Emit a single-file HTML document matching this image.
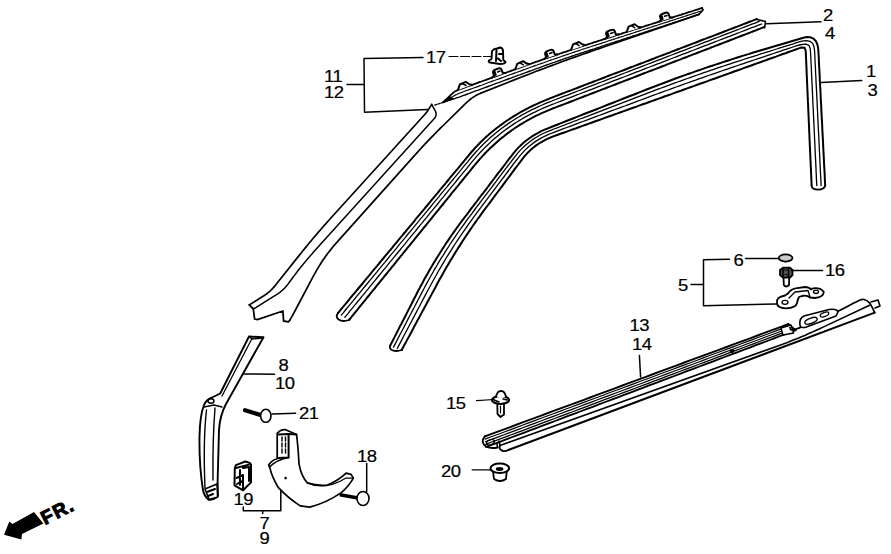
<!DOCTYPE html>
<html><head><meta charset="utf-8"><style>
html,body{margin:0;padding:0;background:#fff;}
svg{display:block;}
text{font-family:"Liberation Sans",sans-serif;font-size:16.5px;fill:#000;stroke:#000;stroke-width:0.2px;letter-spacing:-0.4px;}
</style></head><body>
<svg width="891" height="554" viewBox="0 0 891 554" stroke-linecap="round" stroke-linejoin="round">
<rect width="891" height="554" fill="#fff"/>
<path d="M338,313 L339.7,311 L341.4,308.9 L343.1,306.9 L344.8,304.8 L346.5,302.8 L348.1,300.8 L349.8,298.7 L351.5,296.7 L353.2,294.7 L354.9,292.6 L356.6,290.6 L358.3,288.5 L360,286.5 L361.7,284.5 L363.4,282.4 L365,280.4 L366.7,278.4 L368.4,276.3 L370.1,274.3 L371.8,272.2 L373.5,270.2 L375.2,268.2 L376.9,266.1 L378.6,264.1 L380.3,262 L381.9,260 L383.6,258 L385.3,255.9 L387,253.9 L388.7,251.9 L390.4,249.8 L392.1,247.8 L393.8,245.7 L395.5,243.7 L397.2,241.7 L398.8,239.6 L400.5,237.6 L402.2,235.6 L403.9,233.5 L405.6,231.5 L407.3,229.4 L409,227.4 L410.7,225.4 L412.4,223.3 L414.1,221.3 L415.7,219.2 L417.4,217.2 L419.1,215.2 L420.8,213.1 L422.5,211.1 L424.2,209.1 L425.9,207 L427.6,205 L429.3,202.9 L431,200.9 L432.6,198.9 L434.3,196.8 L436,194.8 L437.7,192.8 L439.4,190.7 L441.1,188.7 L442.8,186.6 L444.5,184.6 L446.2,182.6 L447.9,180.5 L449.5,178.5 L451.2,176.4 L452.9,174.4 L454.6,172.4 L456.3,170.3 L458,168.3 L459.7,166.3 L461.4,164.2 L463.1,162.2 L464.8,160.1 L466.4,158.1 L468.1,156.1 L469.8,154 L471.5,152 L473.3,150 L475,148 L476.9,146.1 L478.7,144.2 L480.5,142.3 L482.4,140.5 L484.4,138.6 L486.3,136.8 L488.3,135.1 L490.3,133.3 L492.3,131.6 L494.3,130 L496.4,128.3 L498.5,126.7 L500.6,125.1 L502.8,123.6 L504.9,122 L507.1,120.5 L509.3,119.1 L511.6,117.6 L513.8,116.2 L516.1,114.9 L518.3,113.5 L520.6,112.2 L523,110.9 L525.3,109.6 L527.6,108.4 L530,107.2 L532.4,106 L534.7,104.9 L537.2,103.8 L539.6,102.7 L542,101.6 L544.4,100.6 L546.9,99.6 L549.3,98.6 L551.8,97.6 L554.3,96.7 L556.7,95.7 L559.2,94.8 L561.7,93.8 L564.2,92.9 L566.6,91.9 L569.1,91 L571.6,90.1 L574,89.1 L576.5,88.2 L579,87.2 L581.5,86.3 L583.9,85.3 L586.4,84.4 L588.9,83.4 L591.4,82.5 L593.8,81.5 L596.3,80.6 L598.8,79.6 L601.2,78.7 L603.7,77.7 L606.2,76.8 L608.7,75.8 L611.1,74.9 L613.6,73.9 L616.1,73 L618.5,72.1 L621,71.1 L623.5,70.2 L626,69.2 L628.4,68.3 L630.9,67.3 L633.4,66.4 L635.9,65.4 L638.3,64.5 L640.8,63.5 L643.3,62.6 L645.7,61.6 L648.2,60.7 L650.7,59.7 L653.2,58.8 L655.6,57.8 L658.1,56.9 L660.6,55.9 L663.1,55 L665.5,54.1 L668,53.1 L670.5,52.2 L672.9,51.2 L675.4,50.3 L677.9,49.3 L680.4,48.4 L682.8,47.4 L685.3,46.5 L687.8,45.5 L690.2,44.6 L692.7,43.6 L695.2,42.7 L697.7,41.7 L700.1,40.8 L702.6,39.8 L705.1,38.9 L707.6,37.9 L710,37 L712.5,36.1 L715,35.1 L717.4,34.2 L719.9,33.2 L722.4,32.3 L724.9,31.3 L727.3,30.4 L729.8,29.4 L732.3,28.5 L734.7,27.5 L737.2,26.6 L739.7,25.6 L742.2,24.7 L744.6,23.7 L747.1,22.8 L749.6,21.8 L752.1,20.9 L754.5,19.9 L757,19 L764.5,27 L762,27.9 L759.6,28.9 L757.1,29.8 L754.7,30.8 L752.2,31.7 L749.8,32.7 L747.3,33.6 L744.8,34.6 L742.4,35.5 L739.9,36.5 L737.5,37.4 L735,38.3 L732.6,39.3 L730.1,40.2 L727.6,41.2 L725.2,42.1 L722.7,43.1 L720.3,44 L717.8,45 L715.4,45.9 L712.9,46.9 L710.4,47.8 L708,48.8 L705.5,49.7 L703.1,50.6 L700.6,51.6 L698.2,52.5 L695.7,53.5 L693.2,54.4 L690.8,55.4 L688.3,56.3 L685.9,57.3 L683.4,58.2 L681,59.2 L678.5,60.1 L676,61 L673.6,62 L671.1,62.9 L668.7,63.9 L666.2,64.8 L663.8,65.8 L661.3,66.7 L658.8,67.7 L656.4,68.6 L653.9,69.6 L651.5,70.5 L649,71.4 L646.6,72.4 L644.1,73.3 L641.6,74.3 L639.2,75.2 L636.7,76.2 L634.3,77.1 L631.8,78.1 L629.4,79 L626.9,80 L624.4,80.9 L622,81.9 L619.5,82.8 L617.1,83.7 L614.6,84.7 L612.2,85.6 L609.7,86.6 L607.2,87.5 L604.8,88.5 L602.3,89.4 L599.9,90.4 L597.4,91.3 L595,92.3 L592.5,93.2 L590.1,94.1 L587.6,95.1 L585.1,96 L582.7,97 L580.2,97.9 L577.8,98.9 L575.3,99.8 L572.9,100.8 L570.4,101.7 L567.9,102.7 L565.5,103.6 L563,104.6 L560.6,105.5 L558.1,106.4 L555.7,107.4 L553.2,108.3 L550.7,109.3 L548.3,110.3 L545.9,111.3 L543.5,112.4 L541.1,113.4 L538.7,114.6 L536.3,115.7 L534,116.9 L531.6,118.1 L529.3,119.4 L527,120.6 L524.7,122 L522.5,123.3 L520.2,124.7 L518,126.1 L515.8,127.5 L513.6,129 L511.5,130.5 L509.3,132.1 L507.2,133.6 L505.1,135.2 L503.1,136.9 L501,138.5 L499,140.2 L497,141.9 L495,143.7 L493.1,145.5 L491.2,147.3 L489.3,149.1 L487.4,150.9 L485.6,152.8 L483.8,154.7 L482,156.7 L480.2,158.6 L478.5,160.6 L476.8,162.6 L475.1,164.6 L473.4,166.7 L471.8,168.7 L470.1,170.8 L468.4,172.8 L466.8,174.8 L465.1,176.9 L463.5,178.9 L461.8,181 L460.1,183 L458.5,185.1 L456.8,187.1 L455.2,189.2 L453.5,191.2 L451.8,193.2 L450.2,195.3 L448.5,197.3 L446.9,199.4 L445.2,201.4 L443.6,203.5 L441.9,205.5 L440.2,207.6 L438.6,209.6 L436.9,211.6 L435.3,213.7 L433.6,215.7 L431.9,217.8 L430.3,219.8 L428.6,221.9 L427,223.9 L425.3,226 L423.6,228 L422,230 L420.3,232.1 L418.7,234.1 L417,236.2 L415.4,238.2 L413.7,240.3 L412,242.3 L410.4,244.4 L408.7,246.4 L407.1,248.4 L405.4,250.5 L403.7,252.5 L402.1,254.6 L400.4,256.6 L398.8,258.7 L397.1,260.7 L395.4,262.8 L393.8,264.8 L392.1,266.8 L390.5,268.9 L388.8,270.9 L387.2,273 L385.5,275 L383.8,277.1 L382.2,279.1 L380.5,281.2 L378.9,283.2 L377.2,285.2 L375.5,287.3 L373.9,289.3 L372.2,291.4 L370.6,293.4 L368.9,295.5 L367.2,297.5 L365.6,299.6 L363.9,301.6 L362.3,303.6 L360.6,305.7 L359,307.7 L357.3,309.8 L355.6,311.8 L354,313.9 L352.3,315.9 L350.7,318 L349,320Z" fill="#fff" stroke="none"/>
<path d="M338,313 L339.7,311 L341.4,308.9 L343.1,306.9 L344.8,304.8 L346.5,302.8 L348.1,300.8 L349.8,298.7 L351.5,296.7 L353.2,294.7 L354.9,292.6 L356.6,290.6 L358.3,288.5 L360,286.5 L361.7,284.5 L363.4,282.4 L365,280.4 L366.7,278.4 L368.4,276.3 L370.1,274.3 L371.8,272.2 L373.5,270.2 L375.2,268.2 L376.9,266.1 L378.6,264.1 L380.3,262 L381.9,260 L383.6,258 L385.3,255.9 L387,253.9 L388.7,251.9 L390.4,249.8 L392.1,247.8 L393.8,245.7 L395.5,243.7 L397.2,241.7 L398.8,239.6 L400.5,237.6 L402.2,235.6 L403.9,233.5 L405.6,231.5 L407.3,229.4 L409,227.4 L410.7,225.4 L412.4,223.3 L414.1,221.3 L415.7,219.2 L417.4,217.2 L419.1,215.2 L420.8,213.1 L422.5,211.1 L424.2,209.1 L425.9,207 L427.6,205 L429.3,202.9 L431,200.9 L432.6,198.9 L434.3,196.8 L436,194.8 L437.7,192.8 L439.4,190.7 L441.1,188.7 L442.8,186.6 L444.5,184.6 L446.2,182.6 L447.9,180.5 L449.5,178.5 L451.2,176.4 L452.9,174.4 L454.6,172.4 L456.3,170.3 L458,168.3 L459.7,166.3 L461.4,164.2 L463.1,162.2 L464.8,160.1 L466.4,158.1 L468.1,156.1 L469.8,154 L471.5,152 L473.3,150 L475,148 L476.9,146.1 L478.7,144.2 L480.5,142.3 L482.4,140.5 L484.4,138.6 L486.3,136.8 L488.3,135.1 L490.3,133.3 L492.3,131.6 L494.3,130 L496.4,128.3 L498.5,126.7 L500.6,125.1 L502.8,123.6 L504.9,122 L507.1,120.5 L509.3,119.1 L511.6,117.6 L513.8,116.2 L516.1,114.9 L518.3,113.5 L520.6,112.2 L523,110.9 L525.3,109.6 L527.6,108.4 L530,107.2 L532.4,106 L534.7,104.9 L537.2,103.8 L539.6,102.7 L542,101.6 L544.4,100.6 L546.9,99.6 L549.3,98.6 L551.8,97.6 L554.3,96.7 L556.7,95.7 L559.2,94.8 L561.7,93.8 L564.2,92.9 L566.6,91.9 L569.1,91 L571.6,90.1 L574,89.1 L576.5,88.2 L579,87.2 L581.5,86.3 L583.9,85.3 L586.4,84.4 L588.9,83.4 L591.4,82.5 L593.8,81.5 L596.3,80.6 L598.8,79.6 L601.2,78.7 L603.7,77.7 L606.2,76.8 L608.7,75.8 L611.1,74.9 L613.6,73.9 L616.1,73 L618.5,72.1 L621,71.1 L623.5,70.2 L626,69.2 L628.4,68.3 L630.9,67.3 L633.4,66.4 L635.9,65.4 L638.3,64.5 L640.8,63.5 L643.3,62.6 L645.7,61.6 L648.2,60.7 L650.7,59.7 L653.2,58.8 L655.6,57.8 L658.1,56.9 L660.6,55.9 L663.1,55 L665.5,54.1 L668,53.1 L670.5,52.2 L672.9,51.2 L675.4,50.3 L677.9,49.3 L680.4,48.4 L682.8,47.4 L685.3,46.5 L687.8,45.5 L690.2,44.6 L692.7,43.6 L695.2,42.7 L697.7,41.7 L700.1,40.8 L702.6,39.8 L705.1,38.9 L707.6,37.9 L710,37 L712.5,36.1 L715,35.1 L717.4,34.2 L719.9,33.2 L722.4,32.3 L724.9,31.3 L727.3,30.4 L729.8,29.4 L732.3,28.5 L734.7,27.5 L737.2,26.6 L739.7,25.6 L742.2,24.7 L744.6,23.7 L747.1,22.8 L749.6,21.8 L752.1,20.9 L754.5,19.9 L757,19" fill="none" stroke="#000" stroke-width="2.0" />
<path d="M349,320 L350.7,318 L352.3,315.9 L354,313.9 L355.6,311.8 L357.3,309.8 L359,307.7 L360.6,305.7 L362.3,303.6 L363.9,301.6 L365.6,299.6 L367.2,297.5 L368.9,295.5 L370.6,293.4 L372.2,291.4 L373.9,289.3 L375.5,287.3 L377.2,285.2 L378.9,283.2 L380.5,281.2 L382.2,279.1 L383.8,277.1 L385.5,275 L387.2,273 L388.8,270.9 L390.5,268.9 L392.1,266.8 L393.8,264.8 L395.4,262.8 L397.1,260.7 L398.8,258.7 L400.4,256.6 L402.1,254.6 L403.7,252.5 L405.4,250.5 L407.1,248.4 L408.7,246.4 L410.4,244.4 L412,242.3 L413.7,240.3 L415.4,238.2 L417,236.2 L418.7,234.1 L420.3,232.1 L422,230 L423.6,228 L425.3,226 L427,223.9 L428.6,221.9 L430.3,219.8 L431.9,217.8 L433.6,215.7 L435.3,213.7 L436.9,211.6 L438.6,209.6 L440.2,207.6 L441.9,205.5 L443.6,203.5 L445.2,201.4 L446.9,199.4 L448.5,197.3 L450.2,195.3 L451.8,193.2 L453.5,191.2 L455.2,189.2 L456.8,187.1 L458.5,185.1 L460.1,183 L461.8,181 L463.5,178.9 L465.1,176.9 L466.8,174.8 L468.4,172.8 L470.1,170.8 L471.8,168.7 L473.4,166.7 L475.1,164.6 L476.8,162.6 L478.5,160.6 L480.2,158.6 L482,156.7 L483.8,154.7 L485.6,152.8 L487.4,150.9 L489.3,149.1 L491.2,147.3 L493.1,145.5 L495,143.7 L497,141.9 L499,140.2 L501,138.5 L503.1,136.9 L505.1,135.2 L507.2,133.6 L509.3,132.1 L511.5,130.5 L513.6,129 L515.8,127.5 L518,126.1 L520.2,124.7 L522.5,123.3 L524.7,122 L527,120.6 L529.3,119.4 L531.6,118.1 L534,116.9 L536.3,115.7 L538.7,114.6 L541.1,113.4 L543.5,112.4 L545.9,111.3 L548.3,110.3 L550.7,109.3 L553.2,108.3 L555.7,107.4 L558.1,106.4 L560.6,105.5 L563,104.6 L565.5,103.6 L567.9,102.7 L570.4,101.7 L572.9,100.8 L575.3,99.8 L577.8,98.9 L580.2,97.9 L582.7,97 L585.1,96 L587.6,95.1 L590.1,94.1 L592.5,93.2 L595,92.3 L597.4,91.3 L599.9,90.4 L602.3,89.4 L604.8,88.5 L607.2,87.5 L609.7,86.6 L612.2,85.6 L614.6,84.7 L617.1,83.7 L619.5,82.8 L622,81.9 L624.4,80.9 L626.9,80 L629.4,79 L631.8,78.1 L634.3,77.1 L636.7,76.2 L639.2,75.2 L641.6,74.3 L644.1,73.3 L646.6,72.4 L649,71.4 L651.5,70.5 L653.9,69.6 L656.4,68.6 L658.8,67.7 L661.3,66.7 L663.8,65.8 L666.2,64.8 L668.7,63.9 L671.1,62.9 L673.6,62 L676,61 L678.5,60.1 L681,59.2 L683.4,58.2 L685.9,57.3 L688.3,56.3 L690.8,55.4 L693.2,54.4 L695.7,53.5 L698.2,52.5 L700.6,51.6 L703.1,50.6 L705.5,49.7 L708,48.8 L710.4,47.8 L712.9,46.9 L715.4,45.9 L717.8,45 L720.3,44 L722.7,43.1 L725.2,42.1 L727.6,41.2 L730.1,40.2 L732.6,39.3 L735,38.3 L737.5,37.4 L739.9,36.5 L742.4,35.5 L744.8,34.6 L747.3,33.6 L749.8,32.7 L752.2,31.7 L754.7,30.8 L757.1,29.8 L759.6,28.9 L762,27.9 L764.5,27" fill="none" stroke="#000" stroke-width="2.0" />
<path d="M341.3,315.1 L343,313.1 L344.7,311 L346.3,309 L348,306.9 L349.7,304.9 L351.4,302.9 L353.1,300.8 L354.7,298.8 L356.4,296.7 L358.1,294.7 L359.8,292.7 L361.5,290.6 L363.1,288.6 L364.8,286.5 L366.5,284.5 L368.2,282.5 L369.9,280.4 L371.6,278.4 L373.2,276.3 L374.9,274.3 L376.6,272.3 L378.3,270.2 L380,268.2 L381.6,266.1 L383.3,264.1 L385,262.1 L386.7,260 L388.4,258 L390,255.9 L391.7,253.9 L393.4,251.9 L395.1,249.8 L396.8,247.8 L398.4,245.7 L400.1,243.7 L401.8,241.7 L403.5,239.6 L405.2,237.6 L406.8,235.5 L408.5,233.5 L410.2,231.5 L411.9,229.4 L413.6,227.4 L415.2,225.3 L416.9,223.3 L418.6,221.3 L420.3,219.2 L422,217.2 L423.7,215.1 L425.3,213.1 L427,211.1 L428.7,209 L430.4,207 L432.1,204.9 L433.7,202.9 L435.4,200.9 L437.1,198.8 L438.8,196.8 L440.5,194.7 L442.1,192.7 L443.8,190.7 L445.5,188.6 L447.2,186.6 L448.9,184.5 L450.5,182.5 L452.2,180.5 L453.9,178.4 L455.6,176.4 L457.3,174.3 L458.9,172.3 L460.6,170.3 L462.3,168.2 L464,166.2 L465.7,164.1 L467.4,162.1 L469,160.1 L470.7,158 L472.4,156 L474.1,154 L475.9,152 L477.7,150.1 L479.5,148.1 L481.3,146.2 L483.2,144.3 L485.1,142.5 L487,140.7 L488.9,138.9 L490.9,137.1 L492.9,135.4 L494.9,133.7 L497,132 L499,130.4 L501.1,128.8 L503.2,127.2 L505.4,125.6 L507.5,124.1 L509.7,122.6 L511.9,121.2 L514.2,119.7 L516.4,118.3 L518.7,117 L520.9,115.6 L523.2,114.3 L525.6,113.1 L527.9,111.8 L530.2,110.6 L532.6,109.4 L535,108.3 L537.4,107.1 L539.8,106 L542.2,105 L544.6,103.9 L547.1,102.9 L549.5,101.9 L552,101 L554.4,100 L556.9,99 L559.4,98.1 L561.8,97.1 L564.3,96.2 L566.8,95.3 L569.2,94.3 L571.7,93.4 L574.2,92.4 L576.6,91.5 L579.1,90.5 L581.6,89.6 L584,88.6 L586.5,87.7 L589,86.7 L591.4,85.8 L593.9,84.8 L596.4,83.9 L598.8,82.9 L601.3,82 L603.8,81.1 L606.2,80.1 L608.7,79.2 L611.2,78.2 L613.7,77.3 L616.1,76.3 L618.6,75.4 L621.1,74.4 L623.5,73.5 L626,72.5 L628.5,71.6 L630.9,70.6 L633.4,69.7 L635.9,68.7 L638.3,67.8 L640.8,66.8 L643.3,65.9 L645.7,65 L648.2,64 L650.7,63.1 L653.1,62.1 L655.6,61.2 L658.1,60.2 L660.5,59.3 L663,58.3 L665.5,57.4 L667.9,56.4 L670.4,55.5 L672.9,54.5 L675.3,53.6 L677.8,52.6 L680.3,51.7 L682.7,50.8 L685.2,49.8 L687.7,48.9 L690.2,47.9 L692.6,47 L695.1,46 L697.6,45.1 L700,44.1 L702.5,43.2 L705,42.2 L707.4,41.3 L709.9,40.3 L712.4,39.4 L714.8,38.4 L717.3,37.5 L719.8,36.5 L722.2,35.6 L724.7,34.7 L727.2,33.7 L729.6,32.8 L732.1,31.8 L734.6,30.9 L737,29.9 L739.5,29 L742,28 L744.4,27.1 L746.9,26.1 L749.4,25.2 L751.8,24.2 L754.3,23.3 L756.8,22.3 L759.2,21.4" fill="none" stroke="#000" stroke-width="1.3" />
<path d="M344.8,317.3 L346.5,315.3 L348.2,313.3 L349.8,311.2 L351.5,309.2 L353.2,307.1 L354.8,305.1 L356.5,303 L358.2,301 L359.9,299 L361.5,296.9 L363.2,294.9 L364.9,292.8 L366.5,290.8 L368.2,288.8 L369.9,286.7 L371.6,284.7 L373.2,282.6 L374.9,280.6 L376.6,278.5 L378.2,276.5 L379.9,274.5 L381.6,272.4 L383.2,270.4 L384.9,268.3 L386.6,266.3 L388.3,264.2 L389.9,262.2 L391.6,260.2 L393.3,258.1 L394.9,256.1 L396.6,254 L398.3,252 L400,250 L401.6,247.9 L403.3,245.9 L405,243.8 L406.6,241.8 L408.3,239.7 L410,237.7 L411.6,235.7 L413.3,233.6 L415,231.6 L416.7,229.5 L418.3,227.5 L420,225.4 L421.7,223.4 L423.3,221.4 L425,219.3 L426.7,217.3 L428.4,215.2 L430,213.2 L431.7,211.2 L433.4,209.1 L435,207.1 L436.7,205 L438.4,203 L440,200.9 L441.7,198.9 L443.4,196.9 L445.1,194.8 L446.7,192.8 L448.4,190.7 L450.1,188.7 L451.7,186.7 L453.4,184.6 L455.1,182.6 L456.8,180.5 L458.4,178.5 L460.1,176.4 L461.8,174.4 L463.4,172.4 L465.1,170.3 L466.8,168.3 L468.5,166.2 L470.1,164.2 L471.8,162.1 L473.5,160.1 L475.2,158.1 L476.9,156.1 L478.7,154.1 L480.4,152.2 L482.3,150.3 L484.1,148.4 L486,146.5 L487.9,144.7 L489.8,142.9 L491.7,141.1 L493.7,139.3 L495.7,137.6 L497.7,135.9 L499.8,134.2 L501.8,132.6 L503.9,131 L506,129.4 L508.2,127.9 L510.3,126.4 L512.5,124.9 L514.7,123.4 L516.9,122 L519.2,120.6 L521.4,119.3 L523.7,117.9 L526,116.6 L528.3,115.4 L530.7,114.1 L533,112.9 L535.4,111.8 L537.8,110.6 L540.2,109.5 L542.6,108.4 L545,107.4 L547.4,106.4 L549.9,105.4 L552.3,104.4 L554.8,103.5 L557.2,102.5 L559.7,101.6 L562.2,100.6 L564.6,99.7 L567.1,98.7 L569.5,97.8 L572,96.8 L574.5,95.9 L576.9,94.9 L579.4,94 L581.9,93 L584.3,92.1 L586.8,91.2 L589.3,90.2 L591.7,89.3 L594.2,88.3 L596.6,87.4 L599.1,86.4 L601.6,85.5 L604,84.5 L606.5,83.6 L609,82.6 L611.4,81.7 L613.9,80.7 L616.3,79.8 L618.8,78.8 L621.3,77.9 L623.7,77 L626.2,76 L628.7,75.1 L631.1,74.1 L633.6,73.2 L636,72.2 L638.5,71.3 L641,70.3 L643.4,69.4 L645.9,68.4 L648.4,67.5 L650.8,66.5 L653.3,65.6 L655.7,64.7 L658.2,63.7 L660.7,62.8 L663.1,61.8 L665.6,60.9 L668.1,59.9 L670.5,59 L673,58 L675.5,57.1 L677.9,56.1 L680.4,55.2 L682.8,54.2 L685.3,53.3 L687.8,52.4 L690.2,51.4 L692.7,50.5 L695.2,49.5 L697.6,48.6 L700.1,47.6 L702.5,46.7 L705,45.7 L707.5,44.8 L709.9,43.8 L712.4,42.9 L714.9,41.9 L717.3,41 L719.8,40 L722.2,39.1 L724.7,38.2 L727.2,37.2 L729.6,36.3 L732.1,35.3 L734.6,34.4 L737,33.4 L739.5,32.5 L741.9,31.5 L744.4,30.6 L746.9,29.6 L749.3,28.7 L751.8,27.7 L754.3,26.8 L756.7,25.9 L759.2,24.9 L761.7,24" fill="none" stroke="#000" stroke-width="1.3" />
<path d="M338,313 C334,318 340,323 349,320" fill="none" stroke="#000" stroke-width="1.8" />
<path d="M757,19.5 L765.5,21.5 L764.5,27.8" fill="none" stroke="#000" stroke-width="1.6" />
<path d="M390,346 L391.6,342.9 L393.2,339.7 L394.8,336.6 L396.4,333.4 L398,330.3 L399.6,327.1 L401.3,324 L402.9,320.8 L404.5,317.7 L406.1,314.6 L407.7,311.4 L409.3,308.3 L410.9,305.1 L412.5,302 L414.1,298.8 L415.7,295.7 L417.3,292.5 L418.9,289.4 L420.6,286.3 L422.3,283.2 L423.9,280.1 L425.6,277 L427.4,273.9 L429.1,270.8 L430.9,267.8 L432.7,264.7 L434.5,261.7 L436.3,258.7 L438.2,255.7 L440.1,252.7 L442,249.7 L443.9,246.7 L445.8,243.8 L447.8,240.9 L449.8,237.9 L451.8,235 L453.8,232.1 L455.8,229.3 L457.9,226.4 L460,223.5 L462.1,220.7 L464.2,217.9 L466.4,215.1 L468.5,212.3 L470.6,209.4 L472.8,206.6 L474.9,203.8 L477.1,201 L479.2,198.2 L481.3,195.4 L483.5,192.6 L485.6,189.8 L487.8,187 L489.9,184.2 L492,181.3 L494.2,178.5 L496.3,175.7 L498.4,172.9 L500.6,170.1 L502.7,167.3 L504.9,164.5 L507,161.7 L509.1,158.9 L511.3,156.1 L513.4,153.3 L515.7,150.6 L518.1,147.9 L520.6,145.5 L523.2,143.1 L525.9,140.8 L528.7,138.7 L531.6,136.7 L534.6,134.8 L537.7,133.1 L540.8,131.4 L544,129.9 L547.3,128.6 L550.6,127.3 L553.8,126 L557.1,124.7 L560.4,123.4 L563.7,122.1 L567,120.8 L570.3,119.5 L573.6,118.2 L576.9,116.9 L580.1,115.6 L583.4,114.3 L586.7,113 L590,111.8 L593.3,110.5 L596.6,109.2 L599.9,107.9 L603.1,106.6 L606.4,105.3 L609.7,104 L613,102.7 L616.3,101.4 L619.6,100.1 L622.9,98.8 L626.2,97.5 L629.4,96.2 L632.7,95 L636,93.7 L639.3,92.4 L642.6,91.1 L645.9,89.8 L649.2,88.5 L652.5,87.2 L655.8,86 L659,84.7 L662.4,83.5 L665.7,82.2 L669,81 L672.3,79.7 L675.6,78.5 L678.9,77.3 L682.2,76.1 L685.6,74.9 L688.9,73.7 L692.2,72.6 L695.5,71.4 L698.9,70.2 L702.2,69.1 L705.6,67.9 L708.9,66.8 L712.3,65.7 L715.6,64.6 L719,63.5 L722.3,62.4 L725.7,61.3 L729,60.2 L732.4,59.1 L735.8,58 L739.1,57 L742.5,55.9 L745.9,54.9 L749.3,53.9 L752.6,52.8 L756,51.8 L759.4,50.8 L762.8,49.8 L766.2,48.8 L769.6,47.8 L772.9,46.8 L776.3,45.8 L779.7,44.8 L783.1,43.7 L786.5,42.7 L789.9,41.7 L793.2,40.7 L796.6,39.7 L800,38.7 L803.4,37.7 L806.9,37.1 L810.4,37.3 L813.6,38.7 L816,41.3 L817.4,44.5 L818.1,48 L818.4,51.5 L818.6,55 L818.8,58.5 L818.9,62.1 L819.1,65.6 L819.3,69.1 L819.5,72.6 L819.7,76.2 L819.8,79.7 L820,83.2 L820.2,86.7 L820.4,90.3 L820.6,93.8 L820.7,97.3 L820.9,100.9 L821.1,104.4 L821.3,107.9 L821.4,111.4 L821.6,115 L821.8,118.5 L822,122 L822.2,125.5 L822.3,129.1 L822.5,132.6 L822.7,136.1 L822.9,139.7 L823.1,143.2 L823.2,146.7 L823.4,150.2 L823.6,153.8 L823.8,157.3 L823.9,160.8 L824.1,164.3 L824.3,167.9 L824.5,171.4 L824.7,174.9 L824.8,178.4 L825,182 L825.2,185.5 L811.6,185.5 L811.5,182.1 L811.3,178.8 L811.2,175.4 L811,172 L810.9,168.7 L810.7,165.3 L810.6,161.9 L810.4,158.6 L810.3,155.2 L810.1,151.9 L810,148.5 L809.8,145.1 L809.7,141.8 L809.5,138.4 L809.4,135 L809.2,131.7 L809.1,128.3 L809,124.9 L808.8,121.6 L808.7,118.2 L808.5,114.8 L808.4,111.5 L808.2,108.1 L808.1,104.7 L807.9,101.4 L807.8,98 L807.6,94.7 L807.5,91.3 L807.3,87.9 L807.2,84.6 L807,81.2 L806.9,77.8 L806.7,74.5 L806.6,71.1 L806.5,67.7 L806.3,64.4 L806.2,61 L806,57.6 L805.9,54.3 L805.7,50.9 L804.6,47.8 L801.4,47.5 L798.2,48.6 L795,49.8 L791.9,50.9 L788.7,52 L785.5,53.2 L782.3,54.3 L779.2,55.4 L776,56.6 L772.8,57.7 L769.7,58.8 L766.5,60 L763.3,61.1 L760.2,62.3 L757,63.4 L753.8,64.5 L750.6,65.7 L747.5,66.8 L744.3,67.9 L741.1,69.1 L738,70.2 L734.8,71.3 L731.6,72.5 L728.5,73.6 L725.3,74.7 L722.1,75.9 L718.9,77 L715.8,78.2 L712.6,79.3 L709.4,80.4 L706.3,81.6 L703.1,82.7 L699.9,83.8 L696.7,85 L693.6,86.1 L690.4,87.2 L687.2,88.4 L684.1,89.5 L680.9,90.7 L677.7,91.8 L674.6,92.9 L671.4,94.1 L668.2,95.2 L665,96.3 L661.9,97.5 L658.7,98.6 L655.5,99.7 L652.4,100.9 L649.2,102 L646,103.2 L642.8,104.3 L639.7,105.4 L636.5,106.6 L633.3,107.7 L630.2,108.8 L627,110 L623.8,111.1 L620.7,112.2 L617.5,113.4 L614.3,114.5 L611.1,115.7 L608,116.8 L604.8,117.9 L601.6,119.1 L598.5,120.2 L595.3,121.3 L592.1,122.5 L589,123.6 L585.8,124.7 L582.6,125.9 L579.4,127 L576.3,128.2 L573.1,129.3 L569.9,130.4 L566.8,131.6 L563.6,132.7 L560.4,133.8 L557.2,135 L554.1,136.1 L550.9,137.3 L547.9,138.7 L544.8,140.2 L541.9,141.8 L539,143.5 L536.2,145.4 L533.5,147.5 L531,149.6 L528.5,151.9 L526.2,154.4 L524,156.9 L521.9,159.6 L519.9,162.3 L517.9,165 L515.8,167.7 L513.8,170.4 L511.8,173.1 L509.8,175.8 L507.8,178.5 L505.8,181.2 L503.8,183.9 L501.8,186.6 L499.7,189.3 L497.7,192 L495.7,194.7 L493.7,197.4 L491.7,200.1 L489.7,202.8 L487.7,205.5 L485.6,208.2 L483.6,210.9 L481.6,213.6 L479.7,216.3 L477.7,219 L475.7,221.8 L473.8,224.5 L471.9,227.3 L470,230.1 L468.1,232.9 L466.2,235.6 L464.3,238.5 L462.5,241.3 L460.7,244.1 L458.9,246.9 L457.1,249.8 L455.3,252.6 L453.5,255.5 L451.8,258.4 L450,261.3 L448.3,264.2 L446.6,267.1 L444.9,270 L443.3,272.9 L441.6,275.9 L440,278.8 L438.3,281.8 L436.7,284.7 L435.2,287.7 L433.6,290.7 L432,293.6 L430.4,296.6 L428.8,299.6 L427.2,302.5 L425.6,305.5 L424,308.5 L422.4,311.4 L420.8,314.4 L419.2,317.4 L417.6,320.3 L416,323.3 L414.4,326.3 L412.9,329.2 L411.3,332.2 L409.7,335.2 L408.1,338.1 L406.5,341.1 L404.9,344.1 L403.3,347 L401.7,350Z" fill="#fff" stroke="none"/>
<path d="M390,346 L391.6,342.9 L393.2,339.7 L394.8,336.6 L396.4,333.4 L398,330.3 L399.6,327.1 L401.3,324 L402.9,320.8 L404.5,317.7 L406.1,314.6 L407.7,311.4 L409.3,308.3 L410.9,305.1 L412.5,302 L414.1,298.8 L415.7,295.7 L417.3,292.5 L418.9,289.4 L420.6,286.3 L422.3,283.2 L423.9,280.1 L425.6,277 L427.4,273.9 L429.1,270.8 L430.9,267.8 L432.7,264.7 L434.5,261.7 L436.3,258.7 L438.2,255.7 L440.1,252.7 L442,249.7 L443.9,246.7 L445.8,243.8 L447.8,240.9 L449.8,237.9 L451.8,235 L453.8,232.1 L455.8,229.3 L457.9,226.4 L460,223.5 L462.1,220.7 L464.2,217.9 L466.4,215.1 L468.5,212.3 L470.6,209.4 L472.8,206.6 L474.9,203.8 L477.1,201 L479.2,198.2 L481.3,195.4 L483.5,192.6 L485.6,189.8 L487.8,187 L489.9,184.2 L492,181.3 L494.2,178.5 L496.3,175.7 L498.4,172.9 L500.6,170.1 L502.7,167.3 L504.9,164.5 L507,161.7 L509.1,158.9 L511.3,156.1 L513.4,153.3 L515.7,150.6 L518.1,147.9 L520.6,145.5 L523.2,143.1 L525.9,140.8 L528.7,138.7 L531.6,136.7 L534.6,134.8 L537.7,133.1 L540.8,131.4 L544,129.9 L547.3,128.6 L550.6,127.3 L553.8,126 L557.1,124.7 L560.4,123.4 L563.7,122.1 L567,120.8 L570.3,119.5 L573.6,118.2 L576.9,116.9 L580.1,115.6 L583.4,114.3 L586.7,113 L590,111.8 L593.3,110.5 L596.6,109.2 L599.9,107.9 L603.1,106.6 L606.4,105.3 L609.7,104 L613,102.7 L616.3,101.4 L619.6,100.1 L622.9,98.8 L626.2,97.5 L629.4,96.2 L632.7,95 L636,93.7 L639.3,92.4 L642.6,91.1 L645.9,89.8 L649.2,88.5 L652.5,87.2 L655.8,86 L659,84.7 L662.4,83.5 L665.7,82.2 L669,81 L672.3,79.7 L675.6,78.5 L678.9,77.3 L682.2,76.1 L685.6,74.9 L688.9,73.7 L692.2,72.6 L695.5,71.4 L698.9,70.2 L702.2,69.1 L705.6,67.9 L708.9,66.8 L712.3,65.7 L715.6,64.6 L719,63.5 L722.3,62.4 L725.7,61.3 L729,60.2 L732.4,59.1 L735.8,58 L739.1,57 L742.5,55.9 L745.9,54.9 L749.3,53.9 L752.6,52.8 L756,51.8 L759.4,50.8 L762.8,49.8 L766.2,48.8 L769.6,47.8 L772.9,46.8 L776.3,45.8 L779.7,44.8 L783.1,43.7 L786.5,42.7 L789.9,41.7 L793.2,40.7 L796.6,39.7 L800,38.7 L803.4,37.7 L806.9,37.1 L810.4,37.3 L813.6,38.7 L816,41.3 L817.4,44.5 L818.1,48 L818.4,51.5 L818.6,55 L818.8,58.5 L818.9,62.1 L819.1,65.6 L819.3,69.1 L819.5,72.6 L819.7,76.2 L819.8,79.7 L820,83.2 L820.2,86.7 L820.4,90.3 L820.6,93.8 L820.7,97.3 L820.9,100.9 L821.1,104.4 L821.3,107.9 L821.4,111.4 L821.6,115 L821.8,118.5 L822,122 L822.2,125.5 L822.3,129.1 L822.5,132.6 L822.7,136.1 L822.9,139.7 L823.1,143.2 L823.2,146.7 L823.4,150.2 L823.6,153.8 L823.8,157.3 L823.9,160.8 L824.1,164.3 L824.3,167.9 L824.5,171.4 L824.7,174.9 L824.8,178.4 L825,182 L825.2,185.5" fill="none" stroke="#000" stroke-width="2.0" />
<path d="M401.7,350 L403.3,347 L404.9,344.1 L406.5,341.1 L408.1,338.1 L409.7,335.2 L411.3,332.2 L412.9,329.2 L414.4,326.3 L416,323.3 L417.6,320.3 L419.2,317.4 L420.8,314.4 L422.4,311.4 L424,308.5 L425.6,305.5 L427.2,302.5 L428.8,299.6 L430.4,296.6 L432,293.6 L433.6,290.7 L435.2,287.7 L436.7,284.7 L438.3,281.8 L440,278.8 L441.6,275.9 L443.3,272.9 L444.9,270 L446.6,267.1 L448.3,264.2 L450,261.3 L451.8,258.4 L453.5,255.5 L455.3,252.6 L457.1,249.8 L458.9,246.9 L460.7,244.1 L462.5,241.3 L464.3,238.5 L466.2,235.6 L468.1,232.9 L470,230.1 L471.9,227.3 L473.8,224.5 L475.7,221.8 L477.7,219 L479.7,216.3 L481.6,213.6 L483.6,210.9 L485.6,208.2 L487.7,205.5 L489.7,202.8 L491.7,200.1 L493.7,197.4 L495.7,194.7 L497.7,192 L499.7,189.3 L501.8,186.6 L503.8,183.9 L505.8,181.2 L507.8,178.5 L509.8,175.8 L511.8,173.1 L513.8,170.4 L515.8,167.7 L517.9,165 L519.9,162.3 L521.9,159.6 L524,156.9 L526.2,154.4 L528.5,151.9 L531,149.6 L533.5,147.5 L536.2,145.4 L539,143.5 L541.9,141.8 L544.8,140.2 L547.9,138.7 L550.9,137.3 L554.1,136.1 L557.2,135 L560.4,133.8 L563.6,132.7 L566.8,131.6 L569.9,130.4 L573.1,129.3 L576.3,128.2 L579.4,127 L582.6,125.9 L585.8,124.7 L589,123.6 L592.1,122.5 L595.3,121.3 L598.5,120.2 L601.6,119.1 L604.8,117.9 L608,116.8 L611.1,115.7 L614.3,114.5 L617.5,113.4 L620.7,112.2 L623.8,111.1 L627,110 L630.2,108.8 L633.3,107.7 L636.5,106.6 L639.7,105.4 L642.8,104.3 L646,103.2 L649.2,102 L652.4,100.9 L655.5,99.7 L658.7,98.6 L661.9,97.5 L665,96.3 L668.2,95.2 L671.4,94.1 L674.6,92.9 L677.7,91.8 L680.9,90.7 L684.1,89.5 L687.2,88.4 L690.4,87.2 L693.6,86.1 L696.7,85 L699.9,83.8 L703.1,82.7 L706.3,81.6 L709.4,80.4 L712.6,79.3 L715.8,78.2 L718.9,77 L722.1,75.9 L725.3,74.7 L728.5,73.6 L731.6,72.5 L734.8,71.3 L738,70.2 L741.1,69.1 L744.3,67.9 L747.5,66.8 L750.6,65.7 L753.8,64.5 L757,63.4 L760.2,62.3 L763.3,61.1 L766.5,60 L769.7,58.8 L772.8,57.7 L776,56.6 L779.2,55.4 L782.3,54.3 L785.5,53.2 L788.7,52 L791.9,50.9 L795,49.8 L798.2,48.6 L801.4,47.5 L804.6,47.8 L805.7,50.9 L805.9,54.3 L806,57.6 L806.2,61 L806.3,64.4 L806.5,67.7 L806.6,71.1 L806.7,74.5 L806.9,77.8 L807,81.2 L807.2,84.6 L807.3,87.9 L807.5,91.3 L807.6,94.7 L807.8,98 L807.9,101.4 L808.1,104.7 L808.2,108.1 L808.4,111.5 L808.5,114.8 L808.7,118.2 L808.8,121.6 L809,124.9 L809.1,128.3 L809.2,131.7 L809.4,135 L809.5,138.4 L809.7,141.8 L809.8,145.1 L810,148.5 L810.1,151.9 L810.3,155.2 L810.4,158.6 L810.6,161.9 L810.7,165.3 L810.9,168.7 L811,172 L811.2,175.4 L811.3,178.8 L811.5,182.1 L811.6,185.5" fill="none" stroke="#000" stroke-width="2.0" />
<path d="M393.5,347.2 L395.1,344.1 L396.7,341 L398.3,337.9 L399.9,334.8 L401.5,331.7 L403.1,328.7 L404.7,325.6 L406.3,322.5 L407.9,319.4 L409.5,316.3 L411.1,313.2 L412.7,310.1 L414.4,307 L416,303.9 L417.6,300.8 L419.2,297.7 L420.8,294.6 L422.4,291.6 L424,288.5 L425.6,285.4 L427.3,282.4 L429,279.3 L430.7,276.3 L432.4,273.2 L434.1,270.2 L435.9,267.2 L437.6,264.2 L439.4,261.2 L441.2,258.2 L443.1,255.3 L444.9,252.3 L446.8,249.4 L448.7,246.5 L450.6,243.5 L452.5,240.6 L454.4,237.8 L456.4,234.9 L458.4,232 L460.4,229.2 L462.4,226.3 L464.5,223.5 L466.5,220.7 L468.6,217.9 L470.7,215.1 L472.8,212.3 L474.8,209.5 L476.9,206.7 L479,204 L481.1,201.2 L483.2,198.4 L485.3,195.6 L487.4,192.9 L489.5,190.1 L491.6,187.3 L493.7,184.5 L495.8,181.8 L497.9,179 L500,176.2 L502.1,173.4 L504.2,170.6 L506.3,167.9 L508.4,165.1 L510.6,162.3 L512.7,159.5 L514.8,156.8 L516.9,154.1 L519.2,151.4 L521.6,148.9 L524.1,146.5 L526.7,144.2 L529.4,142 L532.2,139.9 L535.1,138 L538.1,136.2 L541.1,134.5 L544.3,133 L547.5,131.6 L550.7,130.3 L553.9,129 L557.2,127.8 L560.4,126.5 L563.7,125.3 L566.9,124 L570.2,122.8 L573.4,121.5 L576.7,120.3 L579.9,119 L583.2,117.8 L586.4,116.6 L589.7,115.3 L592.9,114.1 L596.2,112.8 L599.4,111.6 L602.7,110.3 L605.9,109.1 L609.2,107.8 L612.4,106.6 L615.7,105.3 L619,104.1 L622.2,102.9 L625.5,101.6 L628.7,100.4 L632,99.1 L635.2,97.9 L638.5,96.6 L641.7,95.4 L645,94.1 L648.2,92.9 L651.5,91.7 L654.7,90.4 L658,89.2 L661.3,88 L664.5,86.8 L667.8,85.6 L671.1,84.4 L674.3,83.2 L677.6,82 L680.9,80.8 L684.2,79.6 L687.4,78.5 L690.7,77.3 L694,76.2 L697.3,75 L700.6,73.9 L703.9,72.7 L707.2,71.6 L710.5,70.4 L713.8,69.3 L717,68.2 L720.3,67.1 L723.7,66 L727,64.9 L730.3,63.8 L733.6,62.7 L736.9,61.6 L740.2,60.6 L743.5,59.5 L746.8,58.4 L750.1,57.4 L753.5,56.3 L756.8,55.3 L760.1,54.2 L763.4,53.2 L766.7,52.1 L770.1,51.1 L773.4,50 L776.7,49 L780,47.9 L783.3,46.9 L786.7,45.8 L790,44.8 L793.3,43.8 L796.6,42.7 L799.9,41.7 L803.3,40.9 L806.7,40.7 L810,41.3 L812.6,43.2 L813.9,46.4 L814.5,49.9 L814.7,53.3 L814.9,56.8 L815,60.3 L815.2,63.8 L815.4,67.2 L815.5,70.7 L815.7,74.2 L815.9,77.7 L816,81.2 L816.2,84.6 L816.4,88.1 L816.6,91.6 L816.7,95.1 L816.9,98.5 L817.1,102 L817.2,105.5 L817.4,109 L817.6,112.5 L817.7,115.9 L817.9,119.4 L818.1,122.9 L818.2,126.4 L818.4,129.8 L818.6,133.3 L818.8,136.8 L818.9,140.3 L819.1,143.8 L819.3,147.2 L819.4,150.7 L819.6,154.2 L819.8,157.7 L819.9,161.2 L820.1,164.6 L820.3,168.1 L820.4,171.6 L820.6,175.1 L820.8,178.5 L821,182 L821.1,185.5" fill="none" stroke="#000" stroke-width="1.3" />
<path d="M397.3,348.5 L398.9,345.4 L400.5,342.4 L402,339.4 L403.6,336.3 L405.2,333.3 L406.8,330.3 L408.4,327.2 L410,324.2 L411.6,321.2 L413.2,318.1 L414.8,315.1 L416.4,312.1 L418,309 L419.6,306 L421.2,303 L422.8,299.9 L424.4,296.9 L426,293.9 L427.6,290.8 L429.3,287.8 L430.9,284.8 L432.5,281.8 L434.2,278.8 L435.9,275.8 L437.5,272.8 L439.2,269.8 L441,266.8 L442.7,263.9 L444.5,260.9 L446.2,258 L448,255.1 L449.9,252.2 L451.7,249.3 L453.5,246.4 L455.4,243.5 L457.3,240.7 L459.2,237.8 L461.1,235 L463.1,232.1 L465,229.3 L467,226.5 L469,223.7 L471,220.9 L473,218.2 L475,215.4 L477,212.6 L479.1,209.9 L481.1,207.1 L483.2,204.4 L485.3,201.6 L487.3,198.9 L489.4,196.1 L491.4,193.4 L493.5,190.7 L495.6,187.9 L497.6,185.2 L499.7,182.4 L501.7,179.7 L503.8,177 L505.9,174.2 L507.9,171.5 L510,168.7 L512,166 L514.1,163.2 L516.2,160.5 L518.3,157.8 L520.4,155.1 L522.7,152.6 L525,150.1 L527.5,147.7 L530.1,145.5 L532.8,143.4 L535.6,141.4 L538.5,139.6 L541.5,137.9 L544.5,136.3 L547.6,134.8 L550.8,133.5 L554,132.3 L557.2,131.1 L560.4,129.9 L563.6,128.7 L566.8,127.5 L570.1,126.3 L573.3,125.1 L576.5,123.9 L579.7,122.7 L582.9,121.5 L586.1,120.3 L589.3,119.1 L592.6,117.9 L595.8,116.7 L599,115.5 L602.2,114.3 L605.4,113.1 L608.6,111.9 L611.9,110.7 L615.1,109.5 L618.3,108.3 L621.5,107.1 L624.7,106 L627.9,104.8 L631.1,103.6 L634.4,102.4 L637.6,101.2 L640.8,100 L644,98.8 L647.2,97.6 L650.4,96.4 L653.6,95.2 L656.9,94 L660.1,92.8 L663.3,91.7 L666.5,90.5 L669.8,89.3 L673,88.2 L676.2,87 L679.4,85.8 L682.7,84.7 L685.9,83.5 L689.1,82.4 L692.4,81.2 L695.6,80.1 L698.8,78.9 L702.1,77.8 L705.3,76.7 L708.5,75.5 L711.8,74.4 L715,73.3 L718.3,72.2 L721.5,71 L724.7,69.9 L728,68.8 L731.2,67.7 L734.5,66.6 L737.7,65.5 L741,64.4 L744.2,63.3 L747.5,62.2 L750.7,61.1 L754,60 L757.2,58.9 L760.5,57.8 L763.7,56.8 L767,55.7 L770.2,54.6 L773.5,53.5 L776.7,52.4 L780,51.3 L783.2,50.2 L786.5,49.1 L789.7,48.1 L793,47 L796.2,45.9 L799.5,45 L802.8,44.3 L806,44.2 L808.9,45.3 L810.2,48.5 L810.5,51.9 L810.7,55.3 L810.9,58.7 L811,62.2 L811.2,65.6 L811.4,69 L811.5,72.4 L811.7,75.9 L811.8,79.3 L812,82.7 L812.2,86.1 L812.3,89.6 L812.5,93 L812.6,96.4 L812.8,99.8 L812.9,103.3 L813.1,106.7 L813.3,110.1 L813.4,113.5 L813.6,117 L813.7,120.4 L813.9,123.8 L814.1,127.3 L814.2,130.7 L814.4,134.1 L814.5,137.5 L814.7,141 L814.9,144.4 L815,147.8 L815.2,151.2 L815.3,154.7 L815.5,158.1 L815.7,161.5 L815.8,164.9 L816,168.4 L816.1,171.8 L816.3,175.2 L816.4,178.6 L816.6,182.1 L816.8,185.5" fill="none" stroke="#000" stroke-width="1.3" />
<path d="M390,346 C389,351 396,352 401.7,350" fill="none" stroke="#000" stroke-width="1.8" />
<path d="M811.6,185.5 C812,191 824,191 825.2,185.5" fill="none" stroke="#000" stroke-width="1.8" />
<path d="M431.7,104.4 L428.6,109.4 L428.4,109.7 L428.3,109.9 L428.2,110.1 L428,110.3 L427.9,110.5 L427.7,110.8 L427.6,111 L427.4,111.2 L427.3,111.4 L427.1,111.6 L427,111.8 L426.8,112 L426.7,112.2 L426.5,112.4 L426.3,112.6 L426.2,112.8 L426,113 L425.8,113.2 L425.7,113.4 L425.5,113.6 L425.3,113.8 L425.2,114 L425,114.2 L332,216.8 L330.5,218.4 L329.1,220 L327.6,221.6 L326.2,223.3 L324.7,224.9 L323.3,226.5 L321.9,228.1 L320.5,229.8 L319,231.4 L317.6,233.1 L316.2,234.7 L314.8,236.4 L313.4,238 L312,239.7 L310.6,241.4 L309.2,243 L307.8,244.7 L306.5,246.4 L305.1,248.1 L303.7,249.8 L302.3,251.5 L301,253.2 L299.6,254.9 L275.2,285.5 L274.7,286.1 L274.3,286.6 L273.9,287.1 L273.4,287.7 L272.9,288.2 L272.5,288.7 L272,289.2 L271.5,289.7 L271,290.1 L270.5,290.6 L270,291.1 L269.5,291.5 L269,292 L268.5,292.4 L267.9,292.9 L267.4,293.3 L266.8,293.7 L266.3,294.1 L265.7,294.5 L265.2,294.9 L264.6,295.3 L264,295.7 L263.4,296 L249.3,304.9" fill="none" stroke="#000" stroke-width="1.7" />
<path d="M431.7,104.4 L435.1,110.6 L435.3,111 L435.5,111.4 L435.6,111.7 L435.8,112.1 L435.9,112.5 L436,112.9 L436,113.2 L436.1,113.6 L436.1,113.9 L436.1,114.3 L436.1,114.7 L436,115 L436,115.4 L435.9,115.7 L435.8,116 L435.7,116.4 L435.5,116.7 L435.3,117.1 L435.1,117.4 L434.9,117.7 L434.7,118.1 L434.4,118.4 L434.1,118.7 L316.9,248.3 L315.8,249.6 L314.6,250.8 L313.5,252.1 L312.4,253.4 L311.2,254.7 L310.1,255.9 L309.1,257.2 L308,258.4 L306.9,259.7 L305.9,260.9 L304.8,262.2 L303.8,263.4 L302.8,264.7 L301.8,265.9 L300.8,267.1 L299.9,268.3 L298.9,269.5 L297.9,270.8 L297,272 L296.1,273.2 L295.2,274.4 L294.3,275.6 L293.4,276.8 L288.1,284 L287.6,284.5 L287.2,285.1 L286.8,285.6 L286.3,286.1 L285.9,286.7 L285.4,287.2 L285,287.7 L284.5,288.2 L284,288.7 L283.5,289.2 L283,289.6 L282.5,290.1 L282,290.5 L281.5,291 L281,291.4 L280.5,291.9 L279.9,292.3 L279.4,292.7 L278.8,293.1 L278.3,293.5 L277.7,293.9 L277.1,294.3 L276.5,294.7 L259.7,305.2 L259.5,305.3 L259.4,305.4 L259.3,305.5 L259.1,305.6 L259,305.7 L258.8,305.8 L258.7,305.9 L258.5,306 L258.4,306.1 L258.2,306.1 L258.1,306.2 L257.9,306.3 L257.8,306.4 L257.6,306.5 L257.5,306.6 L257.3,306.7 L257.2,306.8 L257,306.9 L256.9,306.9 L256.7,307 L256.6,307.1 L256.4,307.2 L256.3,307.3 L253.3,309" fill="none" stroke="#000" stroke-width="1.5" />
<path d="M699,14.4 L603.1,47.2 L599,48.6 L594.9,50 L590.9,51.4 L586.8,52.9 L582.8,54.3 L578.8,55.7 L574.8,57.1 L570.9,58.5 L567,59.9 L563.1,61.3 L559.2,62.8 L555.3,64.2 L551.5,65.6 L547.7,67 L543.9,68.5 L540.1,69.9 L536.3,71.3 L532.6,72.7 L528.9,74.2 L525.2,75.6 L521.6,77 L517.9,78.5 L514.3,79.9 L480.2,93.4 L479.6,93.7 L478.9,94 L478.3,94.3 L477.7,94.6 L477,94.9 L476.4,95.3 L475.7,95.6 L475.1,96 L474.5,96.4 L473.8,96.8 L473.2,97.2 L472.6,97.6 L471.9,98.1 L471.3,98.5 L470.7,99 L470,99.5 L469.4,100 L468.8,100.6 L468.2,101.1 L467.5,101.6 L466.9,102.2 L466.3,102.8 L465.7,103.4 L442.7,126 L441.4,127.2 L440.2,128.4 L439,129.7 L437.7,130.9 L436.5,132.1 L435.3,133.4 L434.1,134.6 L432.9,135.8 L431.6,137.1 L430.4,138.3 L429.2,139.6 L428,140.9 L426.8,142.1 L425.6,143.4 L424.5,144.6 L423.3,145.9 L422.1,147.2 L420.9,148.5 L419.7,149.7 L418.6,151 L417.4,152.3 L416.2,153.6 L415.1,154.9 L336.6,242.6 L335.5,243.9 L334.3,245.2 L333.2,246.5 L332.1,247.9 L331,249.2 L329.9,250.6 L328.9,251.9 L327.8,253.3 L326.8,254.7 L325.8,256.1 L324.8,257.5 L323.8,258.9 L322.8,260.3 L321.9,261.8 L320.9,263.2 L320,264.7 L319.1,266.1 L318.2,267.6 L317.3,269.1 L316.4,270.6 L315.6,272.1 L314.8,273.6 L313.9,275.2 L294.9,311 L294.8,311.3 L294.7,311.5 L294.5,311.7 L294.4,312 L294.3,312.2 L294.2,312.4 L294,312.7 L293.9,312.9 L293.8,313.1 L293.7,313.3 L293.5,313.6 L293.4,313.8 L293.3,314 L293.2,314.3 L293,314.5 L292.9,314.7 L292.8,314.9 L292.7,315.2 L292.5,315.4 L292.4,315.6 L292.3,315.9 L292.1,316.1 L292,316.3 L289.7,320.4" fill="none" stroke="#000" stroke-width="1.7" />
<path d="M249.3,304.9 L253.3,309 L254.6,319 L257.3,319.7 L282.9,311 L283.6,321 L288.3,321.8 L289.7,320.4" fill="none" stroke="#000" stroke-width="1.8" />
<path d="M443,102.4 L449.5,96.5 L453,98.5 Z" fill="#000" stroke="#000" stroke-width="1"/>
<path d="M443,102.4 L444,101.4 L445,100.5 L446,99.5 L447,98.6 L448,97.6 L449.1,96.6 L450.1,95.7 L451.1,94.7 L452.1,93.8 L453.1,92.8 L454.2,92 L455.4,91.2 L456.6,90.6 L457.9,90 L459.2,89.5 L460.5,89 L461.8,88.6 L463.1,88.1 L464.4,87.6 L465.7,87.1 L467,86.7 L468.4,86.2 L469.7,85.7 L471,85.3 L472.3,84.8 L473.6,84.3 L474.9,83.8 L476.2,83.4 L477.5,82.9 L478.8,82.4 L480.1,81.9 L481.5,81.5 L482.8,81 L484.1,80.5 L485.4,80.1 L486.7,79.6 L488,79.1 L489.3,78.6 L490.6,78.2 L491.9,77.7 L493.2,77.2 L494.5,76.8 L495.9,76.3 L497.2,75.8 L498.5,75.3 L499.8,74.9 L501.1,74.4 L502.4,73.9 L503.7,73.5 L505,73 L506.3,72.5 L507.6,72 L509,71.6 L510.3,71.1 L511.6,70.6 L512.9,70.2 L514.2,69.7 L515.5,69.2 L516.8,68.7 L518.1,68.3 L519.4,67.8 L520.7,67.3 L522.1,66.9 L523.4,66.4 L524.7,65.9 L526,65.4 L527.3,65 L528.6,64.5 L529.9,64 L531.2,63.6 L532.5,63.1 L533.9,62.6 L535.2,62.2 L536.5,61.7 L537.8,61.3 L539.1,60.8 L540.4,60.3 L541.7,59.9 L543.1,59.4 L544.4,59 L545.7,58.5 L547,58.1 L548.3,57.6 L549.6,57.1 L550.9,56.7 L552.3,56.2 L553.6,55.8 L554.9,55.3 L556.2,54.9 L557.5,54.4 L558.9,54 L560.2,53.5 L561.5,53.1 L562.8,52.6 L564.1,52.2 L565.4,51.8 L566.8,51.3 L568.1,50.9 L569.4,50.4 L570.7,50 L572,49.5 L573.4,49.1 L574.7,48.7 L576,48.2 L577.3,47.8 L578.7,47.4 L580,46.9 L581.3,46.5 L582.6,46.1 L583.9,45.6 L585.3,45.2 L586.6,44.8 L587.9,44.3 L589.2,43.9 L590.6,43.5 L591.9,43.1 L593.2,42.6 L594.5,42.2 L595.9,41.8 L597.2,41.4 L598.5,40.9 L599.9,40.5 L601.2,40.1 L602.5,39.7 L603.8,39.2 L605.2,38.8 L606.5,38.4 L607.8,38 L609.1,37.6 L610.5,37.1 L611.8,36.7 L613.1,36.3 L614.4,35.9 L615.8,35.4 L617.1,35 L618.4,34.6 L619.8,34.2 L621.1,33.8 L622.4,33.3 L623.7,32.9 L625.1,32.5 L626.4,32.1 L627.7,31.6 L629,31.2 L630.4,30.8 L631.7,30.4 L633,30 L634.3,29.5 L635.7,29.1 L637,28.7 L638.3,28.3 L639.6,27.8 L641,27.4 L642.3,27 L643.6,26.6 L645,26.2 L646.3,25.7 L647.6,25.3 L648.9,24.9 L650.3,24.5 L651.6,24 L652.9,23.6 L654.2,23.2 L655.6,22.8 L656.9,22.4 L658.2,21.9 L659.5,21.5 L660.9,21.1 L662.2,20.7 L663.5,20.2 L664.9,19.8 L666.2,19.4 L667.5,19 L668.8,18.6 L670.2,18.1 L671.5,17.7 L672.8,17.3 L674.1,16.9 L675.5,16.4 L676.8,16 L678.1,15.6 L679.4,15.2 L680.8,14.8 L682.1,14.3 L683.4,13.9 L684.8,13.5 L686.1,13.1 L687.4,12.6 L688.7,12.2 L690.1,11.8 L691.4,11.4 L692.7,11 L694,10.5 L695.4,10.1 L696.7,9.7 L698,9.3 L699.3,8.8 L700.7,8.4 L702,8" fill="none" stroke="#000" stroke-width="1.8" />
<path d="M443,102.4 L444.2,101.7 L445.3,101 L446.5,100.3 L447.6,99.6 L448.8,98.9 L449.9,98.3 L451.1,97.6 L452.2,96.9 L453.4,96.2 L454.5,95.5 L455.7,94.9 L457,94.3 L458.2,93.7 L459.5,93.2 L460.8,92.7 L462.1,92.2 L463.3,91.8 L464.6,91.3 L465.9,90.8 L467.2,90.3 L468.5,89.9 L469.8,89.4 L471.1,88.9 L472.4,88.5 L473.7,88 L475,87.5 L476.3,87.1 L477.6,86.6 L478.9,86.1 L480.2,85.6 L481.5,85.2 L482.8,84.7 L484,84.2 L485.3,83.8 L486.6,83.3 L487.9,82.8 L489.2,82.3 L490.5,81.9 L491.8,81.4 L493.1,80.9 L494.4,80.5 L495.7,80 L497,79.5 L498.3,79.1 L499.6,78.6 L500.9,78.1 L502.2,77.6 L503.4,77.2 L504.7,76.7 L506,76.2 L507.3,75.8 L508.6,75.3 L509.9,74.8 L511.2,74.3 L512.5,73.9 L513.8,73.4 L515.1,72.9 L516.4,72.5 L517.7,72 L519,71.5 L520.3,71.1 L521.6,70.6 L522.8,70.1 L524.1,69.6 L525.4,69.2 L526.7,68.7 L528,68.2 L529.3,67.8 L530.6,67.3 L531.9,66.8 L533.2,66.4 L534.5,65.9 L535.8,65.4 L537.1,65 L538.4,64.5 L539.7,64 L541,63.6 L542.3,63.1 L543.6,62.7 L544.9,62.2 L546.2,61.7 L547.5,61.3 L548.8,60.8 L550.1,60.4 L551.4,59.9 L552.7,59.5 L554,59 L555.3,58.6 L556.6,58.1 L557.9,57.7 L559.2,57.2 L560.5,56.8 L561.8,56.3 L563.1,55.9 L564.4,55.4 L565.7,55 L567,54.6 L568.3,54.1 L569.6,53.7 L570.9,53.2 L572.2,52.8 L573.5,52.4 L574.8,51.9 L576.1,51.5 L577.4,51.1 L578.7,50.6 L580,50.2 L581.3,49.8 L582.6,49.3 L583.9,48.9 L585.3,48.5 L586.6,48 L587.9,47.6 L589.2,47.2 L590.5,46.8 L591.8,46.3 L593.1,45.9 L594.4,45.5 L595.7,45.1 L597,44.6 L598.3,44.2 L599.7,43.8 L601,43.4 L602.3,42.9 L603.6,42.5 L604.9,42.1 L606.2,41.7 L607.5,41.2 L608.8,40.8 L610.1,40.4 L611.4,40 L612.8,39.6 L614.1,39.1 L615.4,38.7 L616.7,38.3 L618,37.9 L619.3,37.4 L620.6,37 L621.9,36.6 L623.2,36.2 L624.5,35.7 L625.8,35.3 L627.2,34.9 L628.5,34.5 L629.8,34.1 L631.1,33.6 L632.4,33.2 L633.7,32.8 L635,32.4 L636.3,31.9 L637.6,31.5 L638.9,31.1 L640.3,30.7 L641.6,30.2 L642.9,29.8 L644.2,29.4 L645.5,29 L646.8,28.6 L648.1,28.1 L649.4,27.7 L650.7,27.3 L652,26.9 L653.4,26.4 L654.7,26 L656,25.6 L657.3,25.2 L658.6,24.7 L659.9,24.3 L661.2,23.9 L662.5,23.5 L663.8,23 L665.1,22.6 L666.4,22.2 L667.8,21.8 L669.1,21.4 L670.4,20.9 L671.7,20.5 L673,20.1 L674.3,19.7 L675.6,19.2 L676.9,18.8 L678.2,18.4 L679.5,18 L680.9,17.5 L682.2,17.1 L683.5,16.7 L684.8,16.3 L686.1,15.9 L687.4,15.4 L688.7,15 L690,14.6 L691.3,14.2 L692.6,13.7 L694,13.3 L695.3,12.9 L696.6,12.5 L697.9,12 L699.2,11.6 L700.5,11.2" fill="none" stroke="#000" stroke-width="1.2" />
<path d="M443,102.4 L444.3,102 L445.6,101.6 L446.9,101.1 L448.2,100.7 L449.5,100.3 L450.8,99.9 L452.1,99.4 L453.3,99 L454.6,98.6 L455.9,98.2 L457.2,97.7 L458.5,97.3 L459.8,96.8 L461.1,96.4 L462.3,95.9 L463.6,95.4 L464.9,95 L466.2,94.5 L467.5,94 L468.7,93.6 L470,93.1 L471.3,92.6 L472.6,92.1 L473.8,91.7 L475.1,91.2 L476.4,90.7 L477.7,90.3 L478.9,89.8 L480.2,89.3 L481.5,88.9 L482.8,88.4 L484.1,87.9 L485.3,87.5 L486.6,87 L487.9,86.5 L489.2,86 L490.4,85.6 L491.7,85.1 L493,84.6 L494.3,84.2 L495.5,83.7 L496.8,83.2 L498.1,82.8 L499.4,82.3 L500.7,81.8 L501.9,81.3 L503.2,80.9 L504.5,80.4 L505.8,79.9 L507,79.5 L508.3,79 L509.6,78.5 L510.9,78.1 L512.1,77.6 L513.4,77.1 L514.7,76.7 L516,76.2 L517.3,75.7 L518.5,75.2 L519.8,74.8 L521.1,74.3 L522.4,73.8 L523.6,73.4 L524.9,72.9 L526.2,72.4 L527.5,72 L528.7,71.5 L530,71 L531.3,70.6 L532.6,70.1 L533.9,69.6 L535.1,69.1 L536.4,68.7 L537.7,68.2 L539,67.8 L540.2,67.3 L541.5,66.8 L542.8,66.4 L544.1,65.9 L545.4,65.4 L546.6,65 L547.9,64.5 L549.2,64.1 L550.5,63.6 L551.8,63.2 L553.1,62.7 L554.3,62.3 L555.6,61.8 L556.9,61.4 L558.2,60.9 L559.5,60.5 L560.8,60 L562,59.6 L563.3,59.1 L564.6,58.7 L565.9,58.2 L567.2,57.8 L568.5,57.4 L569.8,56.9 L571.1,56.5 L572.3,56 L573.6,55.6 L574.9,55.2 L576.2,54.7 L577.5,54.3 L578.8,53.9 L580.1,53.4 L581.4,53 L582.7,52.6 L584,52.1 L585.2,51.7 L586.5,51.3 L587.8,50.9 L589.1,50.4 L590.4,50 L591.7,49.6 L593,49.2 L594.3,48.8 L595.6,48.3 L596.9,47.9 L598.2,47.5 L599.5,47.1 L600.8,46.6 L602,46.2 L603.3,45.8 L604.6,45.4 L605.9,44.9 L607.2,44.5 L608.5,44.1 L609.8,43.7 L611.1,43.2 L612.4,42.8 L613.7,42.4 L615,42 L616.3,41.5 L617.6,41.1 L618.9,40.7 L620.1,40.3 L621.4,39.8 L622.7,39.4 L624,39 L625.3,38.6 L626.6,38.1 L627.9,37.7 L629.2,37.3 L630.5,36.9 L631.8,36.5 L633.1,36 L634.4,35.6 L635.7,35.2 L637,34.8 L638.2,34.3 L639.5,33.9 L640.8,33.5 L642.1,33.1 L643.4,32.6 L644.7,32.2 L646,31.8 L647.3,31.4 L648.6,30.9 L649.9,30.5 L651.2,30.1 L652.5,29.7 L653.8,29.2 L655,28.8 L656.3,28.4 L657.6,28 L658.9,27.5 L660.2,27.1 L661.5,26.7 L662.8,26.3 L664.1,25.9 L665.4,25.4 L666.7,25 L668,24.6 L669.3,24.2 L670.6,23.7 L671.9,23.3 L673.1,22.9 L674.4,22.5 L675.7,22 L677,21.6 L678.3,21.2 L679.6,20.8 L680.9,20.3 L682.2,19.9 L683.5,19.5 L684.8,19.1 L686.1,18.6 L687.4,18.2 L688.7,17.8 L690,17.4 L691.2,16.9 L692.5,16.5 L693.8,16.1 L695.1,15.7 L696.4,15.2 L697.7,14.8 L699,14.4" fill="none" stroke="#000" stroke-width="1.4" />
<path d="M702,8 L703,10 L699,14.4" fill="none" stroke="#000" stroke-width="1.7" />
<path d="M435,105 L443,102.4" fill="none" stroke="#000" stroke-width="1.4" stroke-dasharray="2,1.5"/>
<path d="M458,89.9 L459.8,84.5 L465.7,81.8 L469.3,84.3 L472.1,84.8" fill="#fff" stroke="#000" stroke-width="2.0" />
<path d="M462.6,83.5 L466,85.5" fill="none" stroke="#000" stroke-width="1.5" />
<path d="M492.2,77.6 L494.2,75.8 L493,72.5 Q492.8,70.5 495.7,69.5 L498.5,68.4 Q500.8,67.6 501.7,69.9 L502.7,72.8 L505.4,72.9" fill="#fff" stroke="#000" stroke-width="2.0" />
<path d="M495.5,74.8 L494.3,71.5" fill="none" stroke="#000" stroke-width="2.4" />
<path d="M497.6,71.9 L500,71.1" fill="none" stroke="#000" stroke-width="1.6" />
<path d="M515.4,69.2 L517.2,63.8 L523.1,61.2 L526.7,63.6 L529.5,64.2" fill="#fff" stroke="#000" stroke-width="2.0" />
<path d="M520,62.8 L523.4,64.8" fill="none" stroke="#000" stroke-width="1.5" />
<path d="M544.2,59 L546.2,57.3 L545.1,53.9 Q544.9,51.9 547.7,50.9 L550.6,49.9 Q552.9,49.1 553.8,51.5 L554.7,54.3 L557.4,54.5" fill="#fff" stroke="#000" stroke-width="2.0" />
<path d="M547.5,56.3 L546.3,53" fill="none" stroke="#000" stroke-width="2.4" />
<path d="M549.7,53.4 L552,52.6" fill="none" stroke="#000" stroke-width="1.6" />
<path d="M571.1,49.9 L573,44.5 L579,42 L582.5,44.5 L585.3,45.2" fill="#fff" stroke="#000" stroke-width="2.0" />
<path d="M575.8,43.6 L579.1,45.6" fill="none" stroke="#000" stroke-width="1.5" />
<path d="M605.1,38.8 L607.2,37.1 L606.1,33.8 Q606,31.7 608.9,30.8 L611.7,29.9 Q614.1,29.2 614.9,31.5 L615.8,34.4 L618.5,34.6" fill="#fff" stroke="#000" stroke-width="2.0" />
<path d="M608.5,36.2 L607.4,32.9" fill="none" stroke="#000" stroke-width="2.4" />
<path d="M610.7,33.4 L613.1,32.6" fill="none" stroke="#000" stroke-width="1.6" />
<path d="M626.6,32 L628.6,26.6 L634.6,24.2 L638.1,26.8 L640.9,27.4" fill="#fff" stroke="#000" stroke-width="2.0" />
<path d="M631.5,25.7 L634.8,27.8" fill="none" stroke="#000" stroke-width="1.5" />
<path d="M659,21.7 L661.1,20 L660,16.6 Q659.9,14.6 662.8,13.7 L665.6,12.8 Q668,12 668.8,14.4 L669.7,17.2 L672.4,17.4" fill="#fff" stroke="#000" stroke-width="2.0" />
<path d="M662.4,19 L661.3,15.7" fill="none" stroke="#000" stroke-width="2.4" />
<path d="M664.6,16.2 L667,15.5" fill="none" stroke="#000" stroke-width="1.6" />
<path d="M492,51 Q494,48.5 497,48.5 L500,47.5 Q503,48 503,51 L503.3,60 L505.5,62 Q505,64 500,64 L490,62.5 Q488,62 489,60.5 L491.5,59 Z" fill="#fff" stroke="#000" stroke-width="1.9" />
<path d="M496.5,50 L496,61 M499,54 L502,54 M498,58.5 L501,61" fill="none" stroke="#000" stroke-width="2.0" />
<path d="M249,336.5 L263.5,337.2 L226,404 Q220,415 219,430 L217.6,482 L218,496 Q214,500 208.6,499.8 Q204,496 203,490 Q199,465 199.5,436 Q200,415 204,405 Q206,400 212,397.5 L220.2,393.5 Z" fill="#fff" stroke="#000" stroke-width="1.9" />
<path d="M252,338.5 L222,396" fill="none" stroke="#000" stroke-width="1.3" />
<path d="M249,336.5 L252,339 L263.5,338" fill="none" stroke="#000" stroke-width="1.4" />
<path d="M206.5,410 Q203,440 205,488" fill="none" stroke="#000" stroke-width="1.4" />
<path d="M215,408 Q212.5,440 213,480" fill="none" stroke="#000" stroke-width="1.4" />
<path d="M204,407 L214,405 L222,407" fill="none" stroke="#000" stroke-width="1.3" />
<path d="M205,489 L217,484 L217.6,497 L209,499.5 Z" fill="#fff" stroke="#000" stroke-width="1.6" />
<path d="M207,492 L215,489 M208,496 L213,494" fill="none" stroke="#000" stroke-width="2.0" />
<ellipse cx="211" cy="401" rx="3" ry="2.2" fill="none" stroke="#000" stroke-width="1.4"/>
<path d="M277.2,458.7 L277.2,433.3 Q281,429 285.6,429.7 L296.5,434.5 Q298,445 299,463.6 Q301,476 307.4,482.9 Q316,486 326.8,485.3 Q338,481 346.1,473.2 L351,474.4 L353.4,478.1 Q349,486 341.3,492.6 Q326,503 309.8,507.1 L300.2,505.9 Q288,498 278.4,487.7 Q272,477 270,468.4 L268.7,464.8 Q272,460 277.2,458.7 Z" fill="#fff" stroke="#000" stroke-width="1.7" />
<path d="M288.6,457.5 Q276,460 269.5,467" fill="none" stroke="#000" stroke-width="1.5" />
<path d="M278.5,434.5 L288.6,434 L288.6,457.5 L278.5,458" fill="none" stroke="#000" stroke-width="2.0" />
<path d="M288.6,434 L296.5,434.5" fill="none" stroke="#000" stroke-width="1.8" />
<path d="M282,437 L282,455 M285.5,437 L285.5,455" fill="none" stroke="#000" stroke-width="1.4" stroke-dasharray="4,2"/>
<path d="M307.4,482.9 Q325,491 346.1,478 L353.4,478.1" fill="none" stroke="#000" stroke-width="1.2" />
<circle cx="285.6" cy="478.1" r="1.3" fill="#000"/>
<path d="M235.9,465.1 L245.3,461.5 L249.6,462.9 L251,464.4 L251,482.4 L243.1,490.3 L234.5,485.3 L234.8,468 Z" fill="#fff" stroke="#000" stroke-width="2.0" />
<path d="M236,468 L250,464.4 M236.5,478 L243,475 L243,490 M240,470 L240,485 M243,468 L249,467 L249,481 M237,484 L242,481" fill="none" stroke="#000" stroke-width="2.0" />
<path d="M245,410.2 L261.3,415.3" fill="none" stroke="#000" stroke-width="4.2" />
<ellipse cx="265.8" cy="415.8" rx="5.2" ry="6.5" fill="#fff" stroke="#000" stroke-width="1.6"/>
<path d="M341.3,495 L358,498" fill="none" stroke="#000" stroke-width="3.8" />
<ellipse cx="363" cy="498.5" rx="6" ry="7" fill="#fff" stroke="#000" stroke-width="1.6"/>
<path d="M484.7,436.5 L788.5,324 L796,330 L874.7,312.6 L508.3,450 Z" fill="#fff" stroke="none"/>
<path d="M484.7,436.5 L490.9,434.2 L497.1,431.9 L503.3,429.6 L509.5,427.3 L515.7,425 L521.9,422.7 L528.1,420.4 L534.3,418.1 L540.5,415.8 L546.7,413.5 L552.9,411.2 L559.1,408.9 L565.3,406.7 L571.5,404.4 L577.7,402.1 L583.9,399.8 L590.1,397.5 L596.3,395.2 L602.5,392.9 L608.7,390.6 L614.9,388.3 L621.1,386 L627.3,383.7 L633.5,381.4 L639.7,379.1 L645.9,376.8 L652.1,374.5 L658.3,372.2 L664.5,369.9 L670.7,367.6 L676.9,365.3 L683.1,363 L689.3,360.7 L695.5,358.4 L701.7,356.1 L707.9,353.8 L714.1,351.6 L720.3,349.3 L726.5,347 L732.7,344.7 L738.9,342.4 L745.1,340.1 L751.3,337.8 L757.5,335.5 L763.7,333.2 L769.9,330.9 L776.1,328.6 L782.3,326.3 L788.5,324" fill="none" stroke="#000" stroke-width="1.9" />
<path d="M485,439.1 L491.2,436.8 L497.5,434.5 L503.7,432.2 L509.9,429.9 L516.1,427.6 L522.3,425.2 L528.6,422.9 L534.8,420.6 L541,418.3 L547.2,416 L553.4,413.7 L559.7,411.4 L565.9,409 L572.1,406.7 L578.3,404.4 L584.5,402.1 L590.8,399.8 L597,397.5 L603.2,395.2 L609.4,392.8 L615.6,390.5 L621.9,388.2 L628.1,385.9 L634.3,383.6 L640.5,381.3 L646.7,379 L652.9,376.7 L659.2,374.3 L665.4,372 L671.6,369.7 L677.8,367.4 L684,365.1 L690.3,362.8 L696.5,360.5 L702.7,358.1 L708.9,355.8 L715.1,353.5 L721.4,351.2 L727.6,348.9 L733.8,346.6 L740,344.3 L746.2,341.9 L752.5,339.6 L758.7,337.3 L764.9,335 L771.1,332.7 L777.3,330.4 L783.6,328.1 L789.8,325.8" fill="none" stroke="#000" stroke-width="1.2" />
<path d="M485.4,441.8 L491.6,439.4 L497.8,437.1 L504.1,434.8 L510.3,432.4 L516.5,430.1 L522.8,427.8 L529,425.4 L535.3,423.1 L541.5,420.8 L547.7,418.4 L554,416.1 L560.2,413.8 L566.5,411.4 L572.7,409.1 L578.9,406.8 L585.2,404.4 L591.4,402.1 L597.6,399.8 L603.9,397.4 L610.1,395.1 L616.4,392.8 L622.6,390.5 L628.8,388.1 L635.1,385.8 L641.3,383.5 L647.6,381.1 L653.8,378.8 L660,376.5 L666.3,374.1 L672.5,371.8 L678.8,369.5 L685,367.1 L691.2,364.8 L697.5,362.5 L703.7,360.1 L709.9,357.8 L716.2,355.5 L722.4,353.1 L728.7,350.8 L734.9,348.5 L741.1,346.2 L747.4,343.8 L753.6,341.5 L759.9,339.2 L766.1,336.8 L772.3,334.5 L778.6,332.2 L784.8,329.8 L791,327.5" fill="none" stroke="#000" stroke-width="1.2" />
<path d="M485.7,444.4 L491.9,442 L498.2,439.7 L504.4,437.3 L510.7,435 L517,432.6 L523.2,430.3 L529.5,427.9 L535.7,425.6 L542,423.2 L548.3,420.9 L554.5,418.5 L560.8,416.2 L567,413.8 L573.3,411.5 L579.5,409.1 L585.8,406.8 L592.1,404.4 L598.3,402.1 L604.6,399.7 L610.8,397.4 L617.1,395 L623.4,392.7 L629.6,390.3 L635.9,388 L642.1,385.6 L648.4,383.3 L654.6,380.9 L660.9,378.6 L667.2,376.2 L673.4,373.9 L679.7,371.5 L685.9,369.2 L692.2,366.8 L698.5,364.5 L704.7,362.1 L711,359.8 L717.2,357.4 L723.5,355.1 L729.7,352.7 L736,350.4 L742.3,348 L748.5,345.7 L754.8,343.3 L761,341 L767.3,338.6 L773.6,336.3 L779.8,333.9 L786.1,331.6 L792.3,329.2" fill="none" stroke="#000" stroke-width="1.3" />
<path d="M486,447 L492.3,444.6 L498.6,442.3 L504.8,439.9 L511.1,437.5 L517.4,435.2 L523.7,432.8 L529.9,430.4 L536.2,428.1 L542.5,425.7 L548.8,423.3 L555.1,421 L561.3,418.6 L567.6,416.2 L573.9,413.9 L580.2,411.5 L586.4,409.1 L592.7,406.8 L599,404.4 L605.3,402 L611.6,399.7 L617.8,397.3 L624.1,394.9 L630.4,392.6 L636.7,390.2 L642.9,387.8 L649.2,385.4 L655.5,383.1 L661.8,380.7 L668,378.3 L674.3,376 L680.6,373.6 L686.9,371.2 L693.2,368.9 L699.4,366.5 L705.7,364.1 L712,361.8 L718.3,359.4 L724.5,357 L730.8,354.7 L737.1,352.3 L743.4,349.9 L749.7,347.6 L755.9,345.2 L762.2,342.8 L768.5,340.5 L774.8,338.1 L781,335.7 L787.3,333.4 L793.6,331" fill="none" stroke="#000" stroke-width="1.8" />
<path d="M788.5,324 L796,330.3 L793.6,331" fill="none" stroke="#000" stroke-width="1.6" />
<path d="M781,328 L791,325 L793.6,333 L783,335 Z" fill="#fff" stroke="#000" stroke-width="1.4" />
<ellipse cx="732" cy="351" rx="2.5" ry="2" fill="#000"/>
<path d="M500,445.5 L776.5,346.4 L778.5,345.7 L780.6,344.9 L782.6,344.2 L784.6,343.4 L786.7,342.7 L788.7,341.9 L790.7,341.1 L792.7,340.3 L794.7,339.5 L796.8,338.7 L798.8,337.9 L800.8,337 L802.8,336.2 L804.8,335.4 L806.8,334.5 L808.8,333.6 L810.8,332.8 L812.7,331.9 L814.7,331 L816.7,330.1 L818.7,329.2 L820.7,328.3 L822.6,327.4 L869.6,305.3" fill="none" stroke="#000" stroke-width="1.6" />
<path d="M508.3,450 L874.7,312.6" fill="none" stroke="#000" stroke-width="1.9" />
<path d="M484.7,436.5 Q480,442 486,446.5 Q491,449 497.5,447.5 L497,447.8" fill="none" stroke="#000" stroke-width="1.9" />
<ellipse cx="490.5" cy="442.3" rx="4" ry="2.6" fill="none" stroke="#000" stroke-width="1.4" transform="rotate(-20 490.5 442.3)"/>
<path d="M497,444 L497.5,447.5" fill="none" stroke="#000" stroke-width="1.6" />
<path d="M500,445.5 Q498,449 503,451 Q506,451.5 508.3,450" fill="none" stroke="#000" stroke-width="1.9" />
<path d="M499,441 L500,445.5" fill="none" stroke="#000" stroke-width="1.5" />
<path d="M790,327.5C791,327.8 788.2,331.6 796,329C803.8,326.4 827.2,316.1 836.5,311.9C845.8,307.7 848.1,306 852,304C855.9,302 858,300.8 860,300C862,299.2 862.4,299 864,299.5C865.6,300 867.8,300.8 869.6,303C871.4,305.2 873.9,311 874.7,312.6" fill="none" stroke="#000" stroke-width="1.7" />
<path d="M800,325 Q799,318 804,316 L829,309.5 Q837,308.5 838,312 L836,316 L805,327.5 Q800,328 800,325 Z" fill="#fff" stroke="#000" stroke-width="1.6" />
<ellipse cx="811" cy="320.8" rx="6.5" ry="2.6" fill="none" stroke="#000" stroke-width="1.4" transform="rotate(-20 811 320.8)"/>
<ellipse cx="824.5" cy="314.5" rx="4.5" ry="2" fill="none" stroke="#000" stroke-width="1.3" transform="rotate(-20 824.5 314.5)"/>
<path d="M871,302 L878,300 L880,306 L875,308" fill="none" stroke="#000" stroke-width="1.6" />
<path d="M777,303 Q776,297 785,295.5 L788,293.5 Q791,289 797,288.2 L805,287 Q809,287 811,289.5 L813,288.3 Q821,287.5 823.8,292 Q823.5,297 815,298 L810,297.5 Q807,295 802,296 L799,297 Q797.5,300 797,303 Q796,308 786,308.3 Q777,308 777,303 Z" fill="#fff" stroke="#000" stroke-width="1.8" />
<path d="M789,298 L795,292 L808,290.5 L810,297" fill="none" stroke="#000" stroke-width="1.3" />
<ellipse cx="785" cy="302.3" rx="3" ry="2" fill="none" stroke="#000" stroke-width="1.3"/>
<ellipse cx="816" cy="291.8" rx="2.5" ry="1.7" fill="none" stroke="#000" stroke-width="1.3"/>
<ellipse cx="785.6" cy="258" rx="6.9" ry="3.6" fill="#ccc" stroke="#000" stroke-width="1.7"/>
<path d="M779.5,259.5 Q785.6,264 791.7,259.5" fill="none" stroke="#000" stroke-width="1.2" />
<path d="M783.5,277 L783.8,285 Q786,288 789,285 L789.2,277" fill="#fff" stroke="#000" stroke-width="1.8" />
<path d="M780,270 L783,267.7 L790,267.7 L792.5,270 L792.5,275 L790,277.5 L783,277.5 L780,275 Z" fill="#555" stroke="#000" stroke-width="1.8" />
<path d="M783,268.5 L783,277 M788.5,268.5 L788.5,277" fill="none" stroke="#000" stroke-width="1.6" />
<path d="M784.5,270 L787,270 M785,274.5 L787,274.5" fill="none" stroke="#000" stroke-width="1.2" stroke="#fff"/>
<path d="M497.3,404 L497.5,414 L500.5,417 L504,414.5 L504,404" fill="#fff" stroke="#000" stroke-width="1.8" />
<ellipse cx="500.5" cy="400" rx="8.5" ry="4" fill="#fff" stroke="#000" stroke-width="2.2"/>
<path d="M496,397 Q497,391 501,390.8 Q505,391 506,397" fill="#fff" stroke="#000" stroke-width="1.8" />
<path d="M494,400 L499,402 M503,399 L507,400" fill="none" stroke="#000" stroke-width="1.4" />
<path d="M500.5,406 L500.5,413" fill="none" stroke="#000" stroke-width="1.2" stroke="#fff"/>
<path d="M493.1,472 L494,479 Q500,483 506,479 L506.7,472" fill="#fff" stroke="#000" stroke-width="1.8" />
<ellipse cx="499.8" cy="468.3" rx="9.3" ry="4.7" fill="#fff" stroke="#000" stroke-width="2.0"/>
<ellipse cx="499.6" cy="469" rx="3.8" ry="1.9" fill="#000"/>
<path d="M347,84.5 H364.3" fill="none" stroke="#000" stroke-width="1.5" />
<path d="M423,57.5 L364,58.5 L364.5,112.3 L427.4,109.5" fill="none" stroke="#000" stroke-width="1.5" />
<path d="M766.5,23.8 L821,21.8" fill="none" stroke="#000" stroke-width="1.5" />
<path d="M821,82.5 L861.8,80.4" fill="none" stroke="#000" stroke-width="1.5" />
<path d="M691,284.6 H703.5" fill="none" stroke="#000" stroke-width="1.5" />
<path d="M729.5,259.3 L703.5,259.8 V305.7 L776.6,304" fill="none" stroke="#000" stroke-width="1.5" />
<path d="M745.6,258.6 H779" fill="none" stroke="#000" stroke-width="1.5" />
<path d="M791.5,270.5 H822.5" fill="none" stroke="#000" stroke-width="1.5" />
<path d="M639.4,355.4 L640.6,377" fill="none" stroke="#000" stroke-width="1.5" />
<path d="M243.7,374 L274.5,374.3" fill="none" stroke="#000" stroke-width="1.5" />
<path d="M272,414.1 L295.6,413.3" fill="none" stroke="#000" stroke-width="1.5" />
<path d="M280.8,490.2 V510.7 H243.3 V507" fill="none" stroke="#000" stroke-width="1.5" />
<path d="M262.7,510.7 V513.5" fill="none" stroke="#000" stroke-width="1.5" />
<path d="M366.7,463.6 V491.5" fill="none" stroke="#000" stroke-width="1.5" />
<path d="M449,56.5 L491,56.5" fill="none" stroke="#000" stroke-width="1.2" stroke-dasharray="9,2.5"/>
<path d="M476.5,400.6 L494,399.5" fill="none" stroke="#000" stroke-width="1.2" />
<path d="M472.2,469.8 L491,469.8" fill="none" stroke="#000" stroke-width="1.3" />
<text transform="translate(324 81.5) scale(1.12 1)">11</text>
<text transform="translate(324 98.3) scale(1.12 1)">12</text>
<text transform="translate(426 63.3) scale(1.12 1)">17</text>
<text transform="translate(823 20.8) scale(1.12 1)">2</text>
<text transform="translate(825 38.7) scale(1.12 1)">4</text>
<text transform="translate(866 77) scale(1.12 1)">1</text>
<text transform="translate(867.5 96) scale(1.12 1)">3</text>
<text transform="translate(678 290.8) scale(1.12 1)">5</text>
<text transform="translate(733.5 266) scale(1.12 1)">6</text>
<text transform="translate(825 276) scale(1.12 1)">16</text>
<text transform="translate(629.5 331.4) scale(1.12 1)">13</text>
<text transform="translate(632 350) scale(1.12 1)">14</text>
<text transform="translate(446 409) scale(1.12 1)">15</text>
<text transform="translate(441 477.4) scale(1.12 1)">20</text>
<text transform="translate(278.5 370.7) scale(1.12 1)">8</text>
<text transform="translate(275 388.5) scale(1.12 1)">10</text>
<text transform="translate(299 418.6) scale(1.12 1)">21</text>
<text transform="translate(233.5 504.7) scale(1.12 1)">19</text>
<text transform="translate(259.5 529) scale(1.12 1)">7</text>
<text transform="translate(259.5 543.5) scale(1.12 1)">9</text>
<text transform="translate(357 461.5) scale(1.12 1)">18</text>
<path d="M4,534.7 L9.3,521.4 L12.5,524 L34,512 L43.4,523.4 L22,534 L21.4,539.4 Z" fill="#000"/>
<text x="0" y="0" transform="translate(45,525) rotate(-27)" style="font-weight:bold;font-size:19px;letter-spacing:1.5px;stroke-width:1.1px">FR.</text>
</svg></body></html>
